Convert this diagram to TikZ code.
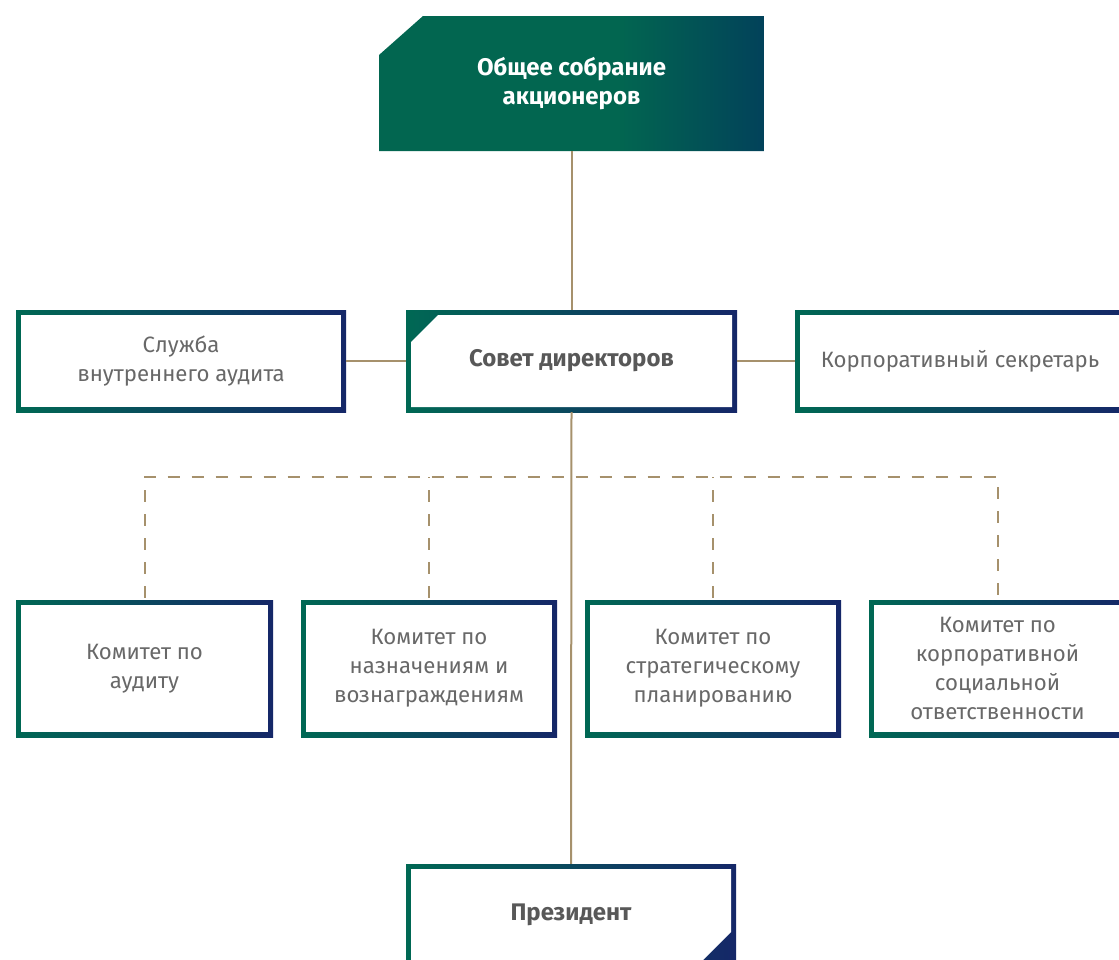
\documentclass[tikz,border=0pt]{standalone}
\usepackage{fontspec}
\setmainfont{Fira Sans}
\definecolor{cg}{RGB}{0,104,84}
\definecolor{cn}{RGB}{21,39,104}
\definecolor{tg}{RGB}{2,102,80}
\definecolor{tb}{RGB}{2,66,90}
\definecolor{ln}{RGB}{166,145,108}
\definecolor{tx}{RGB}{104,104,104}
\definecolor{txb}{RGB}{88,88,88}
\pgfdeclarehorizontalshading{topshade}{100bp}{color(0bp)=(tg); color(56bp)=(tg); color(75bp)=(tb); color(100bp)=(tb)}
\tikzset{
  gb/.style={rectangle, inner sep=0pt, left color=cg, right color=cn,
    font=\fontsize{22.2}{29}\selectfont, text=tx, align=center,
    path picture={\fill[white] ([shift={(5pt,-5pt)}]path picture bounding box.north west) rectangle ([shift={(-5pt,5pt)}]path picture bounding box.south east);}},
  gbtl/.style={rectangle, inner sep=0pt, left color=cg, right color=cn,
    font=\fontsize{24}{29}\selectfont\bfseries, text=txb, align=center,
    path picture={\fill[white] ([shift={(5pt,-32pt)}]path picture bounding box.north west) -- ([shift={(32pt,-5pt)}]path picture bounding box.north west) -- ([shift={(-5pt,-5pt)}]path picture bounding box.north east) -- ([shift={(-5pt,5pt)}]path picture bounding box.south east) -- ([shift={(5pt,5pt)}]path picture bounding box.south west) -- cycle;}},
  gbbr/.style={rectangle, inner sep=0pt, left color=cg, right color=cn,
    font=\fontsize{24}{29}\selectfont\bfseries, text=txb, align=center,
    path picture={\fill[white] ([shift={(5pt,-5pt)}]path picture bounding box.north west) -- ([shift={(-5pt,-5pt)}]path picture bounding box.north east) -- ([shift={(-5pt,34pt)}]path picture bounding box.south east) -- ([shift={(-34pt,5pt)}]path picture bounding box.south east) -- ([shift={(5pt,5pt)}]path picture bounding box.south west) -- cycle;}},
  topbox/.style={rectangle, inner sep=0pt, font=\fontsize{24}{29}\selectfont\bfseries, text=white, align=center,
    path picture={\shade[shading=topshade] ([shift={(0pt,-39pt)}]path picture bounding box.north west) -- ([shift={(44pt,0pt)}]path picture bounding box.north west) -- (path picture bounding box.north east) -- (path picture bounding box.south east) -- (path picture bounding box.south west) -- cycle;}},
  conn/.style={draw=ln, line width=2pt},
  dconn/.style={draw=ln, line width=2pt, dash pattern=on 12pt off 12pt}
}
\begin{document}
\begin{tikzpicture}[x=1pt,y=-1pt]
\clip (0,0) rectangle (1119,959);
\fill[white] (0,0) rectangle (1119,959);
\node[topbox, minimum width=385pt, minimum height=135pt] (top) at (571.5,83.5) {Общее собрание\\акционеров};
\node[gbtl, minimum width=331pt, minimum height=102pt] (sovet) at (571.5,361) {Совет директоров};
\node[gb, minimum width=330pt, minimum height=102pt] (sluzh) at (181,361) {Служба\\внутреннего аудита};
\node[gb, minimum width=330pt, minimum height=102pt] (korp) at (960,361) {Корпоративный секретарь};
\node[gb, minimum width=257pt, minimum height=137pt] (c1) at (144.5,668.5) {Комитет по\\аудиту};
\node[gb, minimum width=256pt, minimum height=137pt] (c2) at (429,668.5) {Комитет по\\назначениям и\\вознаграждениям};
\node[gb, minimum width=256pt, minimum height=137pt] (c3) at (713,668.5) {Комитет по\\стратегическому\\планированию};
\node[gb, minimum width=257pt, minimum height=137pt] (c4) at (997.5,668.5) {Комитет по\\корпоративной\\социальной\\ответственности};
\node[gbbr, minimum width=330pt, minimum height=102pt] (pres) at (571,915) {Президент};
\coordinate (dl) at (145,477);
\draw[dconn] ([yshift=2pt]c1.north) -- (c1.north |- dl) -- (c4.north |- dl) -- ([yshift=2pt]c4.north);
\draw[dconn] ([yshift=2pt]c2.north) -- (c2.north |- dl);
\draw[dconn] ([yshift=2pt]c3.north) -- (c3.north |- dl);
\draw[conn] (top.south) -- (sovet.north);
\draw[conn] (sluzh.east) -- (sovet.west);
\draw[conn] (sovet.east) -- (korp.west);
\draw[conn] (sovet.south) -- (pres.north);
\end{tikzpicture}
\end{document}
